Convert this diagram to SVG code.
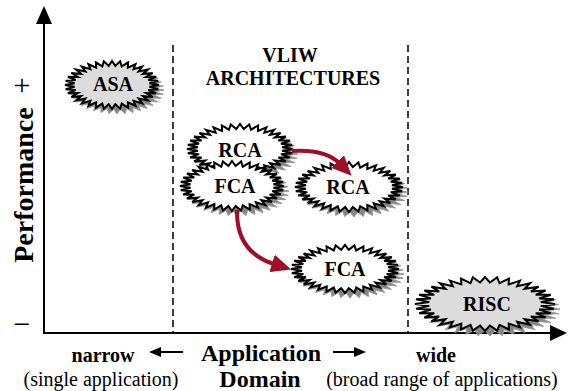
<svg xmlns="http://www.w3.org/2000/svg" width="569" height="391" viewBox="0 0 569 391">
<style>
text{font-family:'Liberation Serif','Times New Roman',Times,serif;fill:#000}
.b{font-weight:bold}
.sh{fill:#858585;stroke:#999;stroke-width:1}
.st{fill:#fff;stroke:#000;stroke-width:2}
.gr{fill:#dcdcdc;stroke:#000;stroke-width:2}
.ax{stroke:#000;stroke-width:2;fill:none}
.dash{stroke:#000;stroke-width:1.5;stroke-dasharray:7,4;fill:none}
.red{stroke:#a00d2a;stroke-width:4;fill:none}
</style>
<defs>
<path id="star" vector-effect="non-scaling-stroke" d="M100,0 L79.7,6.98 98.48,17.36 77.27,20.7 93.97,34.2 72.5,33.81 86.6,50 65.54,45.89 76.6,64.28 56.57,56.57 64.28,76.6 45.89,65.54 50,86.6 33.81,72.5 34.2,93.97 20.7,77.27 17.36,98.48 6.98,79.7 0,100 -6.98,79.7 -17.36,98.48 -20.7,77.27 -34.2,93.97 -33.81,72.5 -50,86.6 -45.89,65.54 -64.28,76.6 -56.57,56.57 -76.6,64.28 -65.54,45.89 -86.6,50 -72.5,33.81 -93.97,34.2 -77.27,20.7 -98.48,17.36 -79.7,6.98 -100,0 -79.7,-6.98 -98.48,-17.36 -77.27,-20.7 -93.97,-34.2 -72.5,-33.81 -86.6,-50 -65.54,-45.89 -76.6,-64.28 -56.57,-56.57 -64.28,-76.6 -45.89,-65.54 -50,-86.6 -33.81,-72.5 -34.2,-93.97 -20.7,-77.27 -17.36,-98.48 -6.98,-79.7 0,-100 6.98,-79.7 17.36,-98.48 20.7,-77.27 34.2,-93.97 33.81,-72.5 50,-86.6 45.89,-65.54 64.28,-76.6 56.57,-56.57 76.6,-64.28 65.54,-45.89 86.6,-50 72.5,-33.81 93.97,-34.2 77.27,-20.7 98.48,-17.36 79.7,-6.98 Z"/>
<marker id="rh" markerUnits="userSpaceOnUse" markerWidth="20" markerHeight="18" refX="2" refY="9" orient="auto">
<path d="M0,0 L20,9 L0,18 Z" fill="#a00d2a"/>
</marker>
</defs>

<g id="axes">
<line class="ax" x1="44" y1="22" x2="44" y2="333"/>
<path d="M44,6 L36,24 L52,24 Z" fill="#000"/>
<line class="ax" x1="43" y1="333" x2="553" y2="333"/>
<path d="M567,333 L550,325 L550,341 Z" fill="#000"/>
<line class="dash" x1="173" y1="45" x2="173" y2="332"/>
<line class="dash" x1="408" y1="45" x2="408" y2="332"/>
</g>

<g id="labels">
<text x="22" y="95" font-size="30" text-anchor="middle">+</text>
<text x="22" y="334" font-size="30" text-anchor="middle">−</text>
<text class="b" transform="translate(33,185) rotate(-90)" font-size="28" text-anchor="middle">Performance</text>
<text class="b" x="290" y="62" font-size="20" text-anchor="middle">VLIW</text>
<text class="b" x="293" y="85" font-size="20" text-anchor="middle">ARCHITECTURES</text>
<text class="b" x="103" y="362" font-size="20" text-anchor="middle">narrow</text>
<text class="b" x="261" y="361" font-size="24" text-anchor="middle">Application</text>
<text class="b" x="436" y="362" font-size="20" text-anchor="middle">wide</text>
<text x="101" y="386" font-size="20" text-anchor="middle">(single application)</text>
<text class="b" x="260" y="387" font-size="24" text-anchor="middle">Domain</text>
<text x="442" y="386" font-size="20" text-anchor="middle">(broad range of applications)</text>
<line x1="183" y1="352" x2="158" y2="352" stroke="#000" stroke-width="2"/>
<path d="M149,352 L161,347 L161,357 Z" fill="#000"/>
<line x1="333" y1="352" x2="357" y2="352" stroke="#000" stroke-width="2"/>
<path d="M366,352 L354,347 L354,357 Z" fill="#000"/>
</g>

<g id="asa">
<use href="#star" class="sh" transform="translate(117,90) scale(0.47,0.24)"/>
<use href="#star" class="gr" transform="translate(112,85) scale(0.47,0.24)"/>
<text class="b" x="113" y="91" font-size="20" text-anchor="middle">ASA</text>
</g>

<g id="rca1">
<use href="#star" class="sh" transform="translate(245,154) scale(0.53,0.25)"/>
<use href="#star" class="st" transform="translate(240,149) scale(0.53,0.25)"/>
<text class="b" x="240" y="157" font-size="20" text-anchor="middle">RCA</text>
</g>

<g id="fca1">
<use href="#star" class="sh" transform="translate(237,191) scale(0.52,0.25)"/>
<use href="#star" class="st" transform="translate(232,186) scale(0.52,0.25)"/>
<text class="b" x="235" y="193" font-size="20" text-anchor="middle">FCA</text>
</g>

<g id="rca2">
<use href="#star" class="sh" transform="translate(354,192) scale(0.54,0.25)"/>
<use href="#star" class="st" transform="translate(349,187) scale(0.54,0.25)"/>
<text class="b" x="348" y="194" font-size="20" text-anchor="middle">RCA</text>
</g>

<g id="fca2">
<use href="#star" class="sh" transform="translate(350,274) scale(0.54,0.24)"/>
<use href="#star" class="st" transform="translate(345,269) scale(0.54,0.24)"/>
<text class="b" x="345" y="276" font-size="20" text-anchor="middle">FCA</text>
</g>

<g id="risc">
<use href="#star" class="sh" transform="translate(490,309) scale(0.70,0.27)"/>
<use href="#star" class="gr" transform="translate(485,304) scale(0.70,0.27)"/>
<text class="b" x="487" y="311" font-size="20" text-anchor="middle">RISC</text>
</g>

<g id="connectors">
<path class="red" d="M292,151 Q325,149 339,163" marker-end="url(#rh)"/>
<path class="red" d="M237,210 Q236,252 274,264" marker-end="url(#rh)"/>
</g>
</svg>
